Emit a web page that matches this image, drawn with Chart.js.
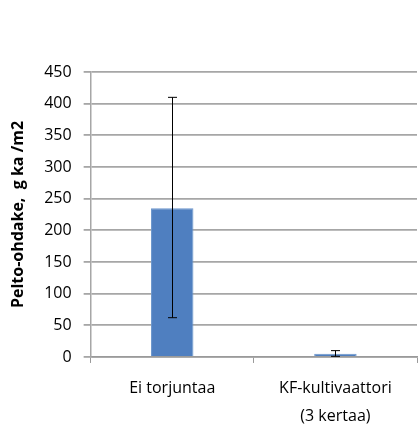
<!DOCTYPE html>
<html>
<head>
<meta charset="utf-8">
<script src="https://cdn.jsdelivr.net/npm/chart.js@4"></script>
<style>
  html, body { margin: 0; padding: 0; background: #fff; }
</style>
</head>
<body>
<canvas id="c" width="418" height="428"></canvas>
<script>
const categories = ["Ei torjuntaa", ["KF-kultivaattori", "(3 kertaa)"]];
const values = [235, 5];
const errLow = [62, 1];
const errHigh = [410, 10];
const yTicks = [0, 50, 100, 150, 200, 250, 300, 350, 400, 450];
const yTitle = "Pelto-ohdake,  g ka /m2";

const errorBars = {
  id: 'errorBars',
  afterDatasetsDraw(chart) {
    const ctx = chart.ctx;
    const meta = chart.getDatasetMeta(0);
    const y = chart.scales.y;
    ctx.save();
    ctx.strokeStyle = '#000';
    ctx.lineWidth = 1;
    meta.data.forEach((bar, i) => {
      const x = Math.round(bar.x) + 0.5;
      const yt = y.getPixelForValue(errHigh[i]);
      const yb = y.getPixelForValue(errLow[i]);
      ctx.beginPath();
      ctx.moveTo(x, yt); ctx.lineTo(x, yb);
      ctx.moveTo(x - 4.5, yt); ctx.lineTo(x + 4.5, yt);
      ctx.moveTo(x - 4.5, yb); ctx.lineTo(x + 4.5, yb);
      ctx.stroke();
    });
    ctx.restore();
  }
};

const font = "'Open Sans', 'Liberation Sans', sans-serif";

new Chart(document.getElementById('c'), {
  type: 'bar',
  data: {
    labels: categories,
    datasets: [{
      data: values,
      backgroundColor: '#4F7FC0',
      borderColor: '#6C96CC',
      borderWidth: 1,
      barPercentage: 0.26,
      categoryPercentage: 1.0
    }]
  },
  options: {
    responsive: false,
    animation: false,
    devicePixelRatio: 1,
    layout: { padding: { top: 72, right: 1, bottom: -14, left: 9 } },
    plugins: { legend: { display: false }, tooltip: { enabled: false } },
    scales: {
      x: {
        grid: { drawOnChartArea: false, drawTicks: true, tickLength: 6, color: '#9a9a9a', offset: true },
        border: { color: '#9a9a9a', width: 1.5 },
        ticks: { color: '#000', font: { family: font, size: 16, lineHeight: 1.72 }, padding: 12, maxRotation: 0, autoSkip: false }
      },
      y: {
        min: 0, max: 450,
        afterBuildTicks(scale) { scale.ticks = yTicks.map(v => ({ value: v })); },
        grid: { color: '#a6a6a6', lineWidth: 1.8, tickLength: 7 },
        border: { color: '#a6a6a6', width: 1.5 },
        ticks: { color: '#000', font: { family: font, size: 16 }, padding: 12 },
        title: { display: true, text: yTitle, color: '#000', font: { family: font, size: 16, weight: 'bold' }, padding: { top: 0, bottom: 4 } }
      }
    }
  },
  plugins: [errorBars]
});
</script>
</body>
</html>
